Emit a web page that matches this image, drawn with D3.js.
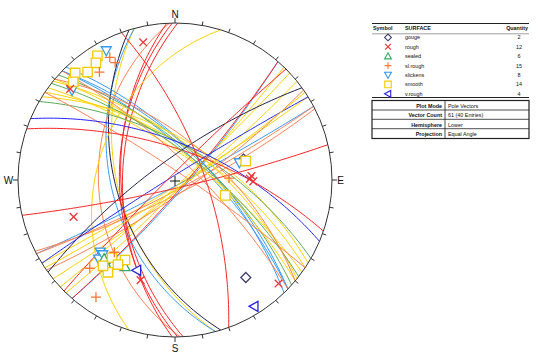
<!DOCTYPE html>
<html><head><meta charset="utf-8">
<script src="https://cdn.jsdelivr.net/npm/d3@7"></script>
<style>body{margin:0;background:#fff}svg{display:block}text{font-family:Arial,"Liberation Sans",sans-serif}</style>
</head><body><svg id="c" width="542" height="355"></svg>
<script>
// ---- data ----
const surfaces   = ["gouge","rough","sealed","sl.rough","slickens","smooth","v.rough"];
const quantities = [2,12,6,15,8,14,4];
// entries: surface index, dip direction, dip
const entrySurface = [5,4,3,3,5,5,3,5,4,1, 5,4,0,3,1,1,1,5, 4,4,4,2,5,5,5,5,5,2,3,3,6,1, 0,6,1,1,1,2,3,5];
const dipDirections= [148,152,152,153,137,141,145,134,131,131, 255,255,253,268,269,271,267,287, 46,44,44,42,39,32,34,36,40,30,44,34,23,19, 324,328,315,70,167,38,40,146];
const dips         = [86,86,83,80,86,83,80,84,82,83, 50,46,49,38,51,53,52,37, 67,70,67,68,65,62,66,72,71,65,76,84,64,68, 75,87,86,69,84,70,62,84];
const infoLabels = ["Plot Mode","Vector Count","Hemisphere","Projection"];
const infoValues = ["Pole Vectors","61 (40 Entries)","Lower","Equal Angle"];
const compassLabels = ["N","E","S","W"];
const headerLabels = ["Symbol","SURFACE","Quantity"];

// ---- styling ----
const lineColors = ["#1c1c48","#ff2222","#5aaa5a","#ff7f50","#3399ff","#ffd200","#2222ff"];
const symColors  = ["#404070","#ee3333","#33aa66","#ff7733","#3399ee","#f5cc00","#2222dd"];
const symShapes  = ["diamond","x","tri","plus","tridown","square","trileft"];
const drawOrder  = [0,4,2,5,6,3,1];

const svg = d3.select("#c");
const cx=175, cy=180, R=157, rad=Math.PI/180;
const xs = d3.scaleLinear().domain([-1,1]).range([cx-R,cx+R]);
const ys = d3.scaleLinear().domain([-1,1]).range([cy+R,cy-R]);
function proj(v){ const k=1/(1-v[2]); return [xs(v[0]*k), ys(v[1]*k)]; }
function greatCircle(dd,dip){
  const st=(dd-90)*rad, d=dd*rad, dp=dip*rad;
  const s=[Math.sin(st),Math.cos(st),0];
  const dv=[Math.sin(d)*Math.cos(dp),Math.cos(d)*Math.cos(dp),-Math.sin(dp)];
  return d3.range(0,180.5,1.5).map(t=>{const c=Math.cos(t*rad),si=Math.sin(t*rad);
    return proj([c*s[0]+si*dv[0],c*s[1]+si*dv[1],c*s[2]+si*dv[2]]);});
}
function pole(dd,dip){ const tr=(dd+180)*rad, pl=(90-dip)*rad;
  return proj([Math.sin(tr)*Math.cos(pl),Math.cos(tr)*Math.cos(pl),-Math.sin(pl)]); }
function symPath(shape,h){
  switch(shape){
    case "square": return `M${-h},${-h}H${h}V${h}H${-h}Z`;
    case "diamond": return `M0,${-h}L${h},0L0,${h}L${-h},0Z`;
    case "x": return `M${-h*0.85},${-h*0.85}L${h*0.85},${h*0.85}M${-h*0.85},${h*0.85}L${h*0.85},${-h*0.85}`;
    case "plus": return `M${-h},0H${h}M0,${-h}V${h}`;
    case "tri": return `M0,${-h}L${h},${h*0.8}L${-h},${h*0.8}Z`;
    case "tridown": return `M${-h},${-h*0.8}L${h},${-h*0.8}L0,${h}Z`;
    case "trileft": return `M${-h},0L${h*0.8},${-h}L${h*0.8},${h}Z`;
  }
}

const defs = svg.append("defs");
defs.append("clipPath").attr("id","net").append("circle").attr("cx",cx).attr("cy",cy).attr("r",R);

// great circles
const line = d3.line();
const gc = svg.append("g").attr("clip-path","url(#net)");
entrySurface.forEach((s,i)=>{
  gc.append("path").attr("d",line(greatCircle(dipDirections[i],dips[i])))
    .attr("fill","none").attr("stroke",lineColors[s]).attr("stroke-width",1);
});

// primitive
svg.append("circle").attr("cx",cx).attr("cy",cy).attr("r",R).attr("fill","none").attr("stroke","#333").attr("stroke-width",1);
d3.range(0,360,10).forEach(a=>{
  const len = a%90===0?5:4;
  const p1=[xs(Math.sin(a*rad)),ys(Math.cos(a*rad))];
  const p2=[xs(Math.sin(a*rad)*(1+len/R)),ys(Math.cos(a*rad)*(1+len/R))];
  svg.append("line").attr("x1",p1[0]).attr("y1",p1[1]).attr("x2",p2[0]).attr("y2",p2[1]).attr("stroke","#333").attr("stroke-width",1);
});
const labOff=[9,8.5,11.5,9.5];
compassLabels.forEach((t,i)=>{
  const a=i*90*rad, off=1+labOff[i]/R;
  svg.append("text").attr("x",xs(Math.sin(a)*off)).attr("y",ys(Math.cos(a)*off)+3.6)
    .attr("text-anchor","middle").attr("font-size",10).attr("fill","#111").text(t);
});
// center mark
svg.append("path").attr("d",`M${cx-5},${cy+1}H${cx+5}M${cx},${cy-4}V${cy+6}`).attr("stroke","#111").attr("stroke-width",1);

// poles
const pg = svg.append("g");
drawOrder.forEach(s=>{
  entrySurface.forEach((es,i)=>{
    if(es!==s) return;
    const p=pole(dipDirections[i],dips[i]);
    const sh=symShapes[s];
    const h = sh==="square"?4.7:(sh==="x"?4.5:5);
    const filled = !(sh==="x"||sh==="plus");
    pg.append("path").attr("transform",`translate(${p[0]},${p[1]})`).attr("d",symPath(sh,h))
      .attr("fill",filled?"#fff":"none").attr("stroke",symColors[s]).attr("stroke-width",1.3);
  });
});

// legend box 1
const L = svg.append("g");
const lx0=372, lx1=529;
L.append("line").attr("x1",lx0).attr("x2",lx1).attr("y1",23.5).attr("y2",23.5).attr("stroke","#222").attr("stroke-width",1.2);
L.append("line").attr("x1",lx0).attr("x2",lx1).attr("y1",33.8).attr("y2",33.8).attr("stroke","#888").attr("stroke-width",0.8);
L.append("line").attr("x1",lx0).attr("x2",lx1).attr("y1",97.5).attr("y2",97.5).attr("stroke","#222").attr("stroke-width",1.2);
const hx=[373,405,528], ha=["start","start","end"];
headerLabels.forEach((t,i)=>L.append("text").attr("x",hx[i]).attr("y",30.3).attr("text-anchor",ha[i])
  .attr("font-size",5.4).attr("font-weight","bold").attr("fill","#111").text(t));
surfaces.forEach((s,i)=>{
  const y=37.4+i*9.4;
  const sh=symShapes[i];
  L.append("path").attr("transform",`translate(388,${y})`).attr("d",symPath(sh,sh==="square"?3.3:3.4))
    .attr("fill",(sh==="x"||sh==="plus")?"none":"#fff").attr("stroke",symColors[i]).attr("stroke-width",1.1);
  L.append("text").attr("x",405).attr("y",y+2).attr("font-size",5.4).attr("fill","#111").text(s);
  L.append("text").attr("x",519).attr("y",y+2).attr("text-anchor","middle").attr("font-size",5.4).attr("fill","#111").text(quantities[i]);
});

// legend box 2
const B = svg.append("g");
B.append("rect").attr("x",lx0).attr("y",100.5).attr("width",lx1-lx0).attr("height",38).attr("fill","none").attr("stroke","#222").attr("stroke-width",1.2);
[110,119.3,128.7].forEach(y=>B.append("line").attr("x1",lx0).attr("x2",lx1).attr("y1",y).attr("y2",y).attr("stroke","#222").attr("stroke-width",0.8));
B.append("line").attr("x1",445).attr("x2",445).attr("y1",100.5).attr("y2",138.5).attr("stroke","#222").attr("stroke-width",0.8);
infoLabels.forEach((t,i)=>{
  const y=106+i*9.3;
  B.append("text").attr("x",442).attr("y",y+2).attr("text-anchor","end").attr("font-size",5.4).attr("font-weight","bold").attr("fill","#111").text(t);
  B.append("text").attr("x",448).attr("y",y+2).attr("font-size",5.4).attr("fill","#111").text(infoValues[i]);
});
</script></body></html>
